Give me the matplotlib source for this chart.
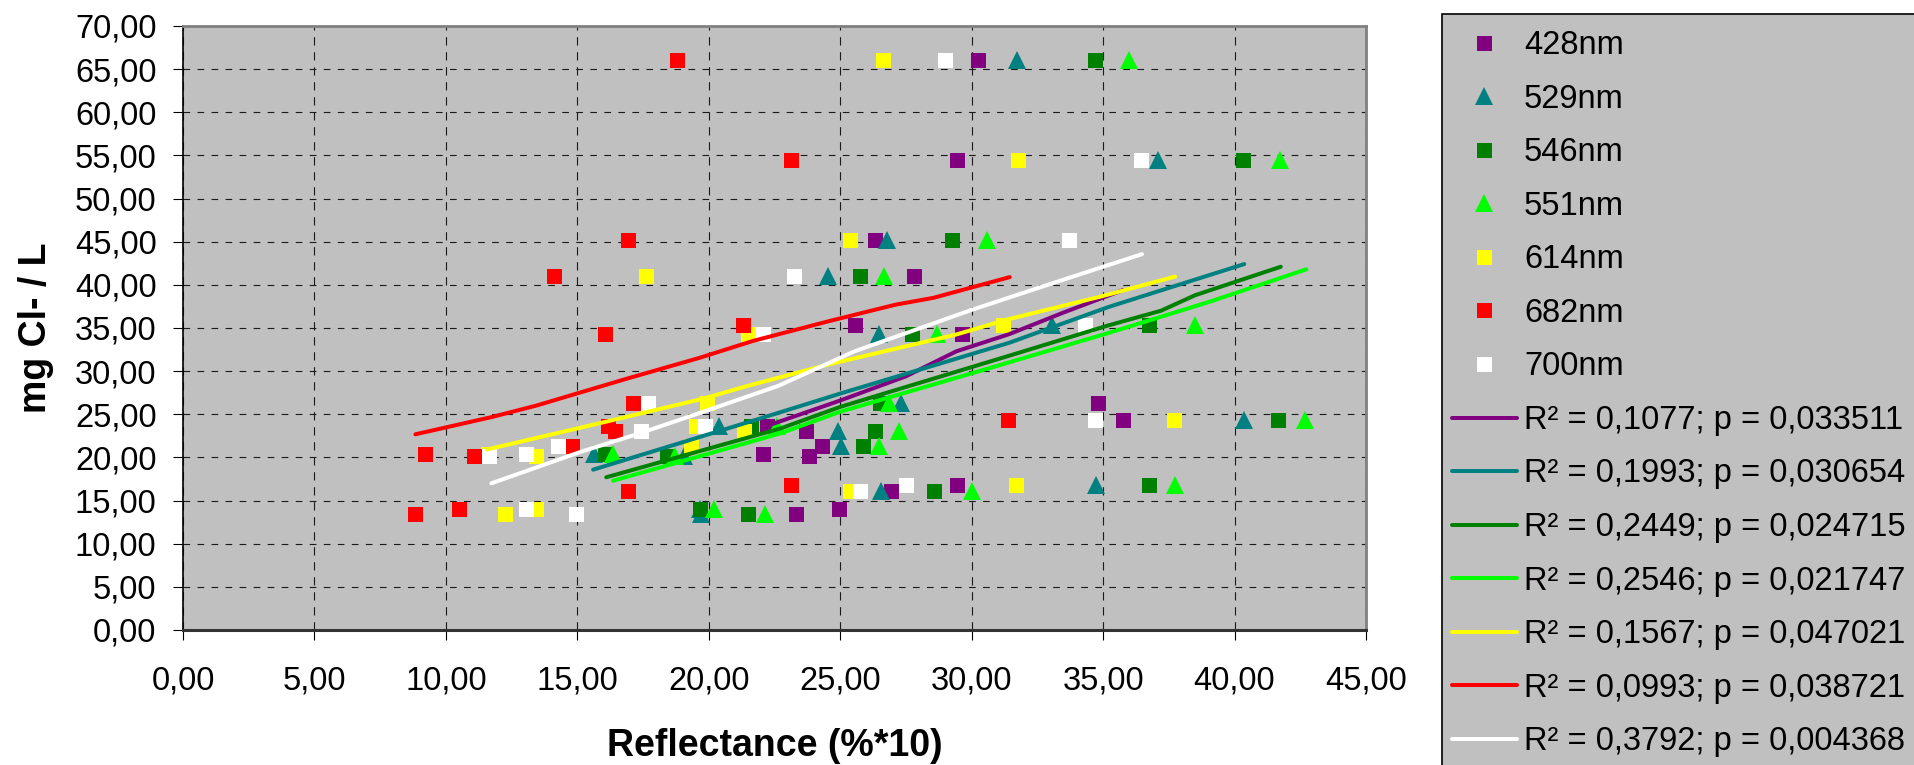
import matplotlib
matplotlib.use("Agg")
import matplotlib.pyplot as plt
from matplotlib.lines import Line2D
from matplotlib.patches import Rectangle
from matplotlib.ticker import MultipleLocator, FuncFormatter

plt.rcParams['font.family'] = ['Liberation Sans', 'DejaVu Sans']
plt.rcParams['lines.scale_dashes'] = False

# ============================================================
# Data
# ============================================================

# mg Cl- / L for each sample (same samples for every wavelength)
conc = [66.1, 54.5, 45.2, 41.0, 35.4, 34.25, 26.3, 24.3, 23.7, 23.1,
        21.35, 20.4, 20.15, 16.75, 16.1, 14.0, 13.4]

# reflectance (%*10) per wavelength
refl_428 = [30.23, 29.46, 26.34, 27.79, 25.55, 29.65, 34.80, 35.76, 22.20, 23.71,
            24.29, 22.07, 23.81, 29.46, 26.94, 24.97, 23.33]
refl_529 = [31.74, 37.08, 26.79, 24.55, 33.06, 26.48, 27.30, 40.37, 20.37, 24.93,
            25.03, 15.64, 19.04, 34.74, 26.57, 19.66, 19.69]
refl_546 = [34.70, 40.33, 29.27, 25.76, 36.73, 27.72, 26.53, 41.66, 21.59, 26.34,
            25.86, 16.06, 18.40, 36.73, 28.55, 19.66, 21.50]
refl_551 = [36.00, 41.74, 30.58, 26.67, 38.51, 28.70, 26.85, 42.69, 22.60, 27.24,
            26.48, 16.36, 18.70, 37.74, 30.00, 20.19, 22.13]
refl_614 = [26.63, 31.78, 25.36, 17.61, 31.20, 21.49, 19.94, 37.70, 19.50, 21.33,
            19.32, 11.60, 13.43, 31.68, 25.36, 13.43, 12.24]
refl_682 = [18.78, 23.13, 16.92, 14.11, 21.30, 16.06, 17.13, 31.39, 16.15, 16.45,
            14.79, 9.21, 11.08, 23.13, 16.91, 10.49, 8.84]
refl_700 = [28.97, 36.44, 33.71, 23.23, 34.30, 22.07, 17.68, 34.68, 19.87, 17.42,
            14.28, 13.04, 11.64, 27.49, 25.75, 13.04, 14.96]

# fitted curves (vertices as drawn in the reference)
fit_428_x = [22.07, 25.00, 27.50, 29.42, 31.44, 33.50, 35.76]
fit_428_y = [23.50, 26.60, 29.40, 32.30, 34.30, 36.80, 39.40]
fit_529_x = [15.60, 22.26, 25.00, 31.44, 35.22, 40.37]
fit_529_y = [18.58, 24.80, 27.40, 33.30, 37.45, 42.41]
fit_546_x = [16.10, 22.74, 25.00, 31.44, 35.20, 37.20, 38.50, 41.76]
fit_546_y = [17.70, 23.37, 25.86, 31.80, 35.30, 37.00, 38.80, 42.10]
fit_551_x = [16.36, 22.74, 25.00, 31.44, 35.22, 39.09, 42.73]
fit_551_y = [17.30, 22.80, 25.30, 31.03, 34.44, 38.08, 41.80]
fit_614_x = [11.56, 14.96, 19.75, 21.49, 24.58, 29.42, 31.35, 34.93, 37.74]
fit_614_y = [20.92, 23.33, 26.78, 28.30, 30.80, 34.25, 35.98, 38.66, 40.96]
fit_682_x = [8.84, 11.73, 13.43, 16.83, 19.68, 21.68, 24.58, 27.10, 28.55, 31.45]
fit_682_y = [22.68, 24.67, 26.00, 29.08, 31.57, 33.50, 35.80, 37.70, 38.50, 40.90]
fit_700_x = [11.73, 15.13, 17.34, 19.75, 22.65, 25.55, 30.00, 33.29, 36.48]
fit_700_y = [17.00, 20.65, 22.76, 25.25, 28.30, 32.30, 37.10, 40.40, 43.56]

names = ['428nm', '529nm', '546nm', '551nm', '614nm', '682nm', '700nm']
fit_labels = ['R² = 0,1077; p = 0,033511', 'R² = 0,1993; p = 0,030654',
              'R² = 0,2449; p = 0,024715', 'R² = 0,2546; p = 0,021747',
              'R² = 0,1567; p = 0,047021', 'R² = 0,0993; p = 0,038721',
              'R² = 0,3792; p = 0,004368']

refl = [refl_428, refl_529, refl_546, refl_551, refl_614, refl_682, refl_700]
fits_x = [fit_428_x, fit_529_x, fit_546_x, fit_551_x, fit_614_x, fit_682_x, fit_700_x]
fits_y = [fit_428_y, fit_529_y, fit_546_y, fit_551_y, fit_614_y, fit_682_y, fit_700_y]

# ============================================================
# Style
# ============================================================
colors = ['#800080', '#008080', '#008000', '#00FF00', '#FFFF00', '#FF0000', '#FFFFFF']
markers = ['s', '^', 's', '^', 's', 's', 's']
PX = 0.72  # points per pixel at dpi 100
marker_sizes = {'s': 15 * PX, '^': 18 * PX}
FS = 23.5
FS_LABEL = 27

W, H = 1915, 765
fig = plt.figure(figsize=(W / 100, H / 100), dpi=100)
ax = fig.add_axes([183 / W, (H - 630) / H, 1183 / W, 604 / H])
ax.set_facecolor('#C0C0C0')

for i in range(7):
    ax.plot(refl[i], conc, ls='none', marker=markers[i], ms=marker_sizes[markers[i]],
            color=colors[i], mec=colors[i], mew=0, zorder=3)

for i in range(7):
    ax.plot(fits_x[i], fits_y[i], color=colors[i], lw=4 * PX,
            solid_capstyle='round', solid_joinstyle='round', zorder=4)

ax.set_xlim(0, 45)
ax.set_ylim(0, 70)
ax.xaxis.set_major_locator(MultipleLocator(5))
ax.yaxis.set_major_locator(MultipleLocator(5))
fmt = FuncFormatter(lambda v, _: f"{v:.2f}".replace('.', ','))
ax.xaxis.set_major_formatter(fmt)
ax.yaxis.set_major_formatter(fmt)

ax.tick_params(direction='out', length=7.5, width=0.8, labelsize=FS, colors='black')
ax.tick_params(axis='x', pad=18)
ax.tick_params(axis='y', pad=11.5)

ax.set_axisbelow(True)
ax.xaxis.grid(True, color='#1a1a1a', lw=0.8, linestyle=(0, (6, 4.8)))
ax.yaxis.grid(True, color='#1a1a1a', lw=0.8, linestyle=(0, (4.8, 5.3)))

ax.spines['left'].set_color('black')
ax.spines['left'].set_linewidth(1.2)
ax.spines['bottom'].set_color('#333333')
ax.spines['bottom'].set_linewidth(2.2)
for s in ['top', 'right']:
    ax.spines[s].set_color('#808080')
    ax.spines[s].set_linewidth(2.0)

ax.set_xlabel('Reflectance (%*10)', fontsize=FS_LABEL, fontweight='bold')
ax.set_ylabel('mg Cl- / L', fontsize=FS_LABEL, fontweight='bold')
ax.xaxis.set_label_coords(0.5, (630 - 728) / 604)
ax.yaxis.set_label_coords((54 - 183) / 1183, 0.5)

# legend box (runs off the right and bottom of the image)
fig.add_artist(Rectangle((1442 / W, -0.1), 1.0, 1.1 - 14 / H, transform=fig.transFigure,
                         facecolor='#C0C0C0', edgecolor='black', lw=1.2, zorder=1))

handles, labels = [], []
for i in range(7):
    handles.append(Line2D([], [], ls='none', marker=markers[i], ms=marker_sizes[markers[i]],
                          color=colors[i], mew=0))
    labels.append(names[i])
for i in range(7):
    handles.append(Line2D([], [], color=colors[i], lw=4 * PX, solid_capstyle='round'))
    labels.append(fit_labels[i])

fs_px = FS / PX
fig.legend(handles, labels, loc='upper left', bbox_to_anchor=(1452 / W, 1 - 30.3 / H),
           frameon=False, borderpad=0, borderaxespad=0, fontsize=FS,
           handlelength=65 / fs_px, handletextpad=7 / fs_px, labelspacing=0.69,
           numpoints=1)

fig.savefig('out.png', dpi=100)
